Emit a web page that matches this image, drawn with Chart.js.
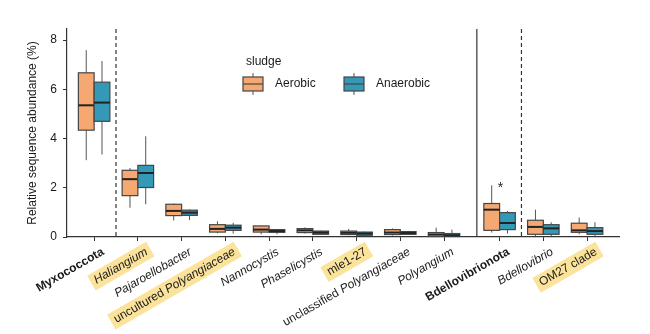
<!DOCTYPE html>
<html>
<head>
<meta charset="utf-8">
<script src="https://cdn.jsdelivr.net/npm/chart.js@4.4.1/dist/chart.umd.min.js"></script>
<style>
    html, body { margin: 0; padding: 0; background: #fff; }
    #wrap { width: 650px; height: 334px; }
</style>
</head>
<body>
<div id="wrap"><canvas id="chart"></canvas></div>
<script>
// categories, with the phylum rows first in each group
const categories = [
    'Myxococcota', 'Haliangium', 'Pajaroellobacter', 'uncultured Polyangiaceae',
    'Nannocystis', 'Phaselicystis', 'mle1-27', 'unclassified Polyangiaceae',
    'Polyangium', 'Bdellovibrionota', 'Bdellovibrio', 'OM27 clade'
];
// bold = phylum, italic = genus, mixed = first word upright, rest italic
const labelStyles = [
    'bold', 'italic', 'italic', 'mixed', 'italic', 'italic', 'plain', 'mixed',
    'italic', 'bold', 'italic', 'plain'
];
const highlighted = ['Haliangium', 'uncultured Polyangiaceae', 'mle1-27', 'OM27 clade'];
const phylumStarts = [0, 9];

// [min, q1, median, q3, max] per category
const aerobic = [
    [3.12, 4.34, 5.35, 6.67, 7.59],
    [1.19, 1.68, 2.35, 2.71, 2.80],
    [0.67, 0.87, 1.06, 1.33, 1.36],
    [0.15, 0.20, 0.33, 0.50, 0.64],
    [0.11, 0.20, 0.30, 0.45, 0.47],
    [0.14, 0.18, 0.27, 0.34, 0.39],
    [0.07, 0.10, 0.17, 0.24, 0.33],
    [0.06, 0.10, 0.18, 0.30, 0.35],
    [0.01, 0.02, 0.10, 0.18, 0.38],
    [0.18, 0.27, 1.11, 1.36, 2.10],
    [0.04, 0.11, 0.41, 0.68, 1.11],
    [0.11, 0.19, 0.27, 0.56, 0.79]
];
const anaerobic = [
    [3.35, 4.70, 5.46, 6.29, 7.15],
    [1.33, 2.01, 2.60, 2.91, 4.09],
    [0.69, 0.88, 0.99, 1.09, 1.12],
    [0.14, 0.27, 0.38, 0.48, 0.58],
    [0.11, 0.19, 0.24, 0.30, 0.32],
    [0.08, 0.11, 0.18, 0.24, 0.26],
    [0.05, 0.07, 0.14, 0.20, 0.22],
    [0.08, 0.11, 0.16, 0.22, 0.25],
    [0.01, 0.02, 0.07, 0.14, 0.30],
    [0.14, 0.30, 0.57, 0.99, 1.06],
    [0.04, 0.11, 0.35, 0.50, 0.60],
    [0.04, 0.11, 0.24, 0.38, 0.60]
];
const significance = ['', '', '', '', '', '', '', '', '', '*', '', ''];
const yTicks = [0, 2, 4, 6, 8];
const seriesNames = ['Aerobic', 'Anaerobic'];
const legendTitle = 'sludge';

const FONT = "'Liberation Sans', Arial, sans-serif";
const COLORS = ['#f6a872', '#3399b7'];
const BOX_W = 0.36;
const GROUP_GAP = 0.27;
const positions = categories.map((c, i) => i + (i >= phylumStarts[1] ? GROUP_GAP : 0));
const series = [aerobic, anaerobic];

function drawBox(ctx, x, y, cx, stats, color) {
    const [mn, q1, med, q3, mx] = stats;
    const l = x.getPixelForValue(cx - BOX_W / 2);
    const r = x.getPixelForValue(cx + BOX_W / 2);
    const c = x.getPixelForValue(cx);
    ctx.strokeStyle = '#555';
    ctx.lineWidth = 1;
    ctx.beginPath();
    ctx.moveTo(c, y.getPixelForValue(mx));
    ctx.lineTo(c, y.getPixelForValue(q3));
    ctx.moveTo(c, y.getPixelForValue(q1));
    ctx.lineTo(c, y.getPixelForValue(mn));
    ctx.stroke();
    const t = y.getPixelForValue(q3), b = y.getPixelForValue(q1);
    ctx.fillStyle = color;
    ctx.fillRect(l, t, r - l, b - t);
    ctx.strokeStyle = '#454545';
    ctx.lineWidth = 1.2;
    ctx.strokeRect(l, t, r - l, b - t);
    ctx.strokeStyle = '#222';
    ctx.lineWidth = 2;
    ctx.beginPath();
    ctx.moveTo(l, y.getPixelForValue(med));
    ctx.lineTo(r, y.getPixelForValue(med));
    ctx.stroke();
}

function labelParts(text, style) {
    if (style === 'bold') return [{ t: text, f: 'bold 12px ' + FONT }];
    if (style === 'italic') return [{ t: text, f: 'italic 12px ' + FONT }];
    if (style === 'mixed') {
        const k = text.indexOf(' ');
        return [{ t: text.slice(0, k + 1), f: '12px ' + FONT }, { t: text.slice(k + 1), f: 'italic 12px ' + FONT }];
    }
    return [{ t: text, f: '12px ' + FONT }];
}

const boxPlugin = {
    id: 'boxes',
    beforeDatasetsDraw(chart) {
        const { ctx, scales: { x, y } } = chart;
        // separators between phyla and inside each phylum
        ctx.save();
        ctx.strokeStyle = '#333';
        ctx.lineWidth = 1.2;
        const dashed = phylumStarts.map(i => positions[i] + 0.5);
        const solid = positions[phylumStarts[1]] - 0.52;
        ctx.setLineDash([4, 3]);
        dashed.forEach(v => {
            ctx.beginPath();
            ctx.moveTo(x.getPixelForValue(v), y.top);
            ctx.lineTo(x.getPixelForValue(v), y.bottom);
            ctx.stroke();
        });
        ctx.setLineDash([]);
        ctx.beginPath();
        ctx.moveTo(x.getPixelForValue(solid), y.top);
        ctx.lineTo(x.getPixelForValue(solid), y.bottom);
        ctx.stroke();
        ctx.restore();
    },
    afterDatasetsDraw(chart) {
        const { ctx, scales: { x, y } } = chart;
        ctx.save();
        categories.forEach((cat, i) => {
            series.forEach((s, k) => {
                const cx = positions[i] + (k === 0 ? -BOX_W / 2 : BOX_W / 2);
                drawBox(ctx, x, y, cx, s[i], COLORS[k]);
            });
            if (significance[i]) {
                const top = Math.max(aerobic[i][4], anaerobic[i][4]);
                ctx.fillStyle = '#222';
                ctx.font = '14px ' + FONT;
                ctx.textAlign = 'center';
                ctx.textBaseline = 'alphabetic';
                ctx.fillText(significance[i], x.getPixelForValue(positions[i]) + 1, y.getPixelForValue(top) + 7);
            }
        });

        // rotated category labels
        categories.forEach((cat, i) => {
            const parts = labelParts(cat, labelStyles[i]);
            let w = 0;
            parts.forEach(p => { ctx.font = p.f; p.w = ctx.measureText(p.t).width; w += p.w; });
            ctx.save();
            ctx.translate(x.getPixelForValue(positions[i]) + 9, y.bottom + 14);
            ctx.rotate(-Math.PI / 6);
            if (highlighted.includes(cat)) {
                ctx.fillStyle = '#fbe39b';
                ctx.fillRect(-w - 4, -8.5, w + 8, 17);
            }
            ctx.fillStyle = '#1a1a1a';
            ctx.textBaseline = 'middle';
            ctx.textAlign = 'left';
            let px = -w;
            parts.forEach(p => { ctx.font = p.f; ctx.fillText(p.t, px, 0); px += p.w; });
            ctx.restore();
        });

        // legend
        ctx.fillStyle = '#1a1a1a';
        ctx.font = '12px ' + FONT;
        ctx.textAlign = 'left';
        ctx.textBaseline = 'middle';
        ctx.fillText(legendTitle, 246, 62);
        const lx = [243, 344];
        seriesNames.forEach((name, k) => {
            const l = lx[k], r = l + 20, t = 77, b = 91;
            ctx.strokeStyle = '#555';
            ctx.lineWidth = 1;
            ctx.beginPath();
            ctx.moveTo(l + 10, t - 4); ctx.lineTo(l + 10, t);
            ctx.moveTo(l + 10, b); ctx.lineTo(l + 10, b + 4);
            ctx.stroke();
            ctx.fillStyle = COLORS[k];
            ctx.fillRect(l, t, r - l, b - t);
            ctx.strokeStyle = '#454545';
            ctx.lineWidth = 1.2;
            ctx.strokeRect(l, t, r - l, b - t);
            ctx.beginPath();
            ctx.moveTo(l, (t + b) / 2); ctx.lineTo(r, (t + b) / 2);
            ctx.stroke();
            ctx.fillStyle = '#1a1a1a';
            ctx.fillText(name, r + 12, 84);
        });
        ctx.restore();
    }
};

new Chart(document.getElementById('chart'), {
    type: 'scatter',
    data: {
        datasets: series.map((s, k) => ({
            label: seriesNames[k],
            data: s.map((st, i) => ({ x: positions[i] + (k === 0 ? -BOX_W / 2 : BOX_W / 2), y: st[2] })),
            pointRadius: 0,
            backgroundColor: COLORS[k]
        }))
    },
    options: {
        responsive: true,
        maintainAspectRatio: false,
        animation: false,
        layout: { padding: { top: 29, right: 31, left: 0, bottom: 0 } },
        plugins: { legend: { display: false }, tooltip: { enabled: false } },
        scales: {
            x: {
                type: 'linear',
                min: -0.62,
                max: 12.0,
                afterBuildTicks: s => { s.ticks = positions.map(v => ({ value: v })); },
                afterFit: s => { s.height = 97; },
                ticks: { display: false },
                grid: { drawOnChartArea: false, drawTicks: true, tickLength: 4, color: '#333' },
                border: { display: true, color: '#333', width: 1.2 }
            },
            y: {
                min: 0,
                max: 8.45,
                afterBuildTicks: s => { s.ticks = yTicks.map(v => ({ value: v })); },
                afterFit: s => { s.width = 67; },
                ticks: { padding: 6, color: '#1a1a1a', font: { family: FONT, size: 12 } },
                grid: { drawOnChartArea: false, drawTicks: true, tickLength: 4, color: '#333' },
                border: { display: true, color: '#333', width: 1.2 },
                title: {
                    display: true,
                    text: 'Relative sequence abundance (%)',
                    color: '#1a1a1a',
                    font: { family: FONT, size: 12 },
                    padding: { top: 25 }
                }
            }
        }
    },
    plugins: [boxPlugin]
});
</script>
</body>
</html>
